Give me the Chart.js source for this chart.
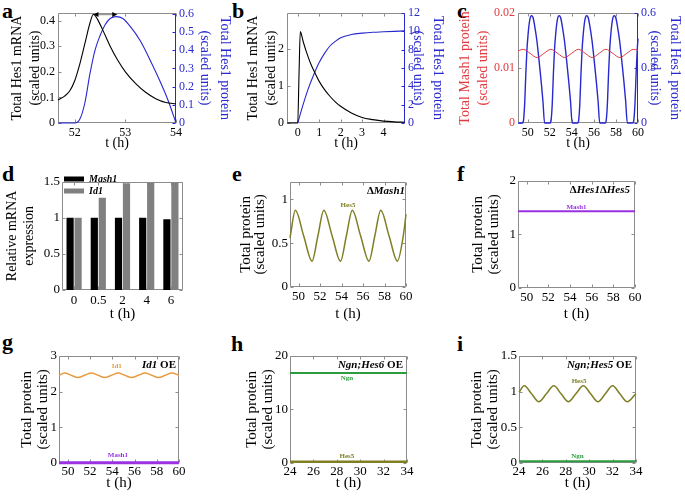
<!DOCTYPE html>
<html>
<head>
<meta charset="utf-8">
<script src="https://cdn.jsdelivr.net/npm/chart.js@4.4.1/dist/chart.umd.min.js"></script>
<style>
  body { margin: 0; width: 685px; height: 497px; background: #fff; position: relative; overflow: hidden; }
  canvas { position: absolute; }
  .tag { position: absolute; font: bold 22px "Liberation Serif", Tinos, "Times New Roman", "DejaVu Serif", serif; line-height: 22px; color: #000; }
</style>
</head>
<body>
<div class="tag" style="left:2px;top:0px">a</div>
<div class="tag" style="left:232px;top:0px">b</div>
<div class="tag" style="left:457px;top:0px">c</div>
<div class="tag" style="left:2px;top:163px">d</div>
<div class="tag" style="left:232px;top:163px">e</div>
<div class="tag" style="left:457px;top:163px">f</div>
<div class="tag" style="left:2px;top:331px">g</div>
<div class="tag" style="left:231px;top:333px">h</div>
<div class="tag" style="left:457px;top:333px">i</div>
<script>
'use strict'

// a: one Hes1 cycle
const aMrnaTime = [51.67, 51.8, 51.9, 52.0, 52.1, 52.2, 52.3, 52.37, 52.45, 52.55, 52.7, 52.85, 53.0, 53.2, 53.4, 53.6, 53.8, 54.0];
const aMrna = [0.09, 0.105, 0.125, 0.165, 0.23, 0.31, 0.39, 0.425, 0.405, 0.365, 0.3, 0.245, 0.2, 0.155, 0.12, 0.095, 0.08, 0.075];
const aProtTime = [51.67, 52.0, 52.1, 52.2, 52.3, 52.4, 52.5, 52.6, 52.7, 52.82, 52.95, 53.1, 53.3, 53.5, 53.7, 53.85, 54.0];
const aProt = [0, 0, 0.02, 0.11, 0.27, 0.4, 0.48, 0.54, 0.575, 0.585, 0.575, 0.53, 0.45, 0.34, 0.22, 0.12, 0];
const aPeaks = [52.37, 52.84];

// b: response after induction
const bMrnaTime = [-0.5, 0, 0.06, 0.12, 0.25, 0.4, 0.6, 0.8, 1.0, 1.25, 1.5, 1.75, 2.0, 2.5, 3.0, 3.5, 4.0, 4.5, 5.0];
const bMrna = [0, 0, 1.3, 2.46, 2.2, 1.92, 1.6, 1.35, 1.12, 0.9, 0.72, 0.57, 0.45, 0.27, 0.15, 0.09, 0.05, 0.03, 0.02];
const bProtTime = [0, 0.25, 0.5, 0.75, 1.0, 1.25, 1.5, 1.75, 2.0, 2.5, 3.0, 3.5, 4.0, 5.0];
const bProt = [0, 2.0, 3.8, 5.3, 6.6, 7.6, 8.4, 8.9, 9.3, 9.65, 9.8, 9.9, 9.95, 10.05];

// c: Mash1 vs Hes1 protein
const cMashTime = [49.12, 49.6, 50.22, 50.85, 51.47, 52.1, 52.72, 53.35, 53.97, 54.6, 55.22, 55.85, 56.47, 57.1, 57.72, 58.35, 58.97, 59.6, 60.0];
const cMash = [0.0131, 0.0134, 0.01265, 0.0119, 0.01265, 0.0134, 0.01265, 0.0119, 0.01265, 0.0134, 0.01265, 0.0119, 0.01265, 0.0134, 0.01265, 0.0119, 0.01265, 0.0134, 0.0132];
const cHesTime = [49.12,
  49.53, 49.63, 49.73, 49.83, 49.93, 50.03, 50.13, 50.23, 50.35, 50.48, 50.63, 50.83, 51.03, 51.23, 51.38, 51.53,
  52.03, 52.13, 52.23, 52.33, 52.43, 52.53, 52.63, 52.73, 52.85, 52.98, 53.13, 53.33, 53.53, 53.73, 53.88, 54.03,
  54.53, 54.63, 54.73, 54.83, 54.93, 55.03, 55.13, 55.23, 55.35, 55.48, 55.63, 55.83, 56.03, 56.23, 56.38, 56.53,
  57.03, 57.13, 57.23, 57.33, 57.43, 57.53, 57.63, 57.73, 57.85, 57.98, 58.13, 58.33, 58.53, 58.73, 58.88, 59.03,
  59.53, 59.63, 59.73, 59.83, 59.93, 60.0];
const cHes = [0,
  0, 0.02, 0.11, 0.27, 0.4, 0.48, 0.54, 0.575, 0.585, 0.575, 0.53, 0.45, 0.34, 0.22, 0.12, 0,
  0, 0.02, 0.11, 0.27, 0.4, 0.48, 0.54, 0.575, 0.585, 0.575, 0.53, 0.45, 0.34, 0.22, 0.12, 0,
  0, 0.02, 0.11, 0.27, 0.4, 0.48, 0.54, 0.575, 0.585, 0.575, 0.53, 0.45, 0.34, 0.22, 0.12, 0,
  0, 0.02, 0.11, 0.27, 0.4, 0.48, 0.54, 0.575, 0.585, 0.575, 0.53, 0.45, 0.34, 0.22, 0.12, 0,
  0, 0.02, 0.11, 0.27, 0.4, 0.46];

// d: relative mRNA expression
const dTimes = ['0', '0.5', '2', '4', '6'];
const dMash1 = [1, 1, 1, 1, 0.98];
const dId1 = [1, 1.28, 1.48, 1.49, 1.49];

// e: Hes5 in Mash1 null
const eTime = [49.2, 49.7, 50.47, 51.25, 51.8, 52.35, 53.12, 53.9, 54.45, 55.0, 55.77, 56.55, 57.1, 57.65, 58.42, 59.2, 59.75, 60.0];
const eHes5 = [0.56, 0.875, 0.585, 0.295, 0.585, 0.875, 0.585, 0.295, 0.585, 0.875, 0.585, 0.295, 0.585, 0.875, 0.585, 0.295, 0.585, 0.83];

// f: Mash1 in Hes1/Hes5 double null
const fTime = [49.2, 60];
const fMash1 = [1.43, 1.43];

// g: Id1 overexpression
const gTime = [49.2, 49.7, 50.3, 50.9, 51.5, 52.12, 52.72, 53.32, 53.92, 54.53, 55.13, 55.74, 56.34, 56.95, 57.55, 58.16, 58.76, 59.37, 60.0];
const gId1 = [2.45, 2.52, 2.455, 2.39, 2.455, 2.52, 2.455, 2.39, 2.455, 2.52, 2.455, 2.39, 2.455, 2.52, 2.455, 2.39, 2.455, 2.52, 2.455];
const gMashTime = [49.2, 60];
const gMash1 = [0.01, 0.01];

// h: Ngn;Hes6 overexpression
const hTime = [24, 34];
const hNgn = [16.8, 16.8];
const hHes5 = [0.25, 0.25];

// i: Ngn;Hes5 overexpression
const iTime = [24, 24.45, 25.07, 25.7, 26.34, 26.98, 27.6, 28.22, 28.86, 29.5, 30.12, 30.75, 31.38, 32.0, 32.62, 33.25, 33.88, 34.0];
const iHes5 = [0.99, 1.08, 0.968, 0.857, 0.968, 1.08, 0.968, 0.857, 0.968, 1.08, 0.968, 0.857, 0.968, 1.08, 0.968, 0.857, 0.95, 0.97];
const iNgnTime = [24, 34];
const iNgn = [0.025, 0.025];

const serif = '"Liberation Serif", Tinos, "Times New Roman", "DejaVu Serif", serif';
Chart.defaults.font.family = serif;
Chart.defaults.color = '#000';

const BLUE = '#2828cf';
const RED = '#e0393e';
const OLIVE = '#7f7f24';
const PURPLE = '#9a32e2';
const ORANGE = '#e99a3e';
const GREEN = '#2c9c3c';

const pts = (xs, ys) => xs.map((x, i) => ({x: x, y: ys[i]}));

function line(data, color, width, axis) {
	return {
		data: data,
		borderColor: color,
		borderWidth: width,
		pointRadius: 0,
		cubicInterpolationMode: 'monotone',
		yAxisID: axis || 'y',
		fill: false,
		clip: 3,
	};
}

function linAxis(o, pos, fit) {
	return {
		type: 'linear',
		position: pos,
		min: o.min,
		max: o.max,
		grid: {display: false, drawTicks: false},
		border: {display: false},
		ticks: {color: o.color || '#000', font: {size: o.size}, padding: o.pad || 3, maxRotation: 0, autoSkip: false, callback: v => String(v)},
		afterBuildTicks: s => { s.ticks = o.ticks.map(v => ({value: v})); },
		title: {display: true, text: o.title, color: o.color || '#000', padding: 0, font: {size: o.titleSize, lineHeight: o.lh + 'px'}},
		afterFit: s => { if (pos === 'bottom') s.height = fit; else s.width = fit; },
	};
}

function framePlugin(p) {
	return {
		id: 'frame',
		beforeDatasetsDraw(chart) {
			const {ctx, chartArea: a, scales} = chart;
			const L = Math.round(a.left) + 0.5, R = Math.round(a.right) - 0.5;
			const T = Math.round(a.top) + 0.5, B = Math.round(a.bottom) - 0.5;
			ctx.save();
			ctx.lineWidth = 1;
			ctx.strokeStyle = '#8c8c8c';
			ctx.beginPath();
			ctx.moveTo(R, T); ctx.lineTo(L, T); ctx.lineTo(L, B); ctx.lineTo(R, B);
			if (!scales.y2) ctx.lineTo(R, T);
			scales.x.ticks.forEach((t, i) => {
				const px = Math.round(scales.x.getPixelForTick(i)) + 0.5;
				ctx.moveTo(px, B); ctx.lineTo(px, B - 3);
				ctx.moveTo(px, T); ctx.lineTo(px, T + 3);
			});
			scales.y.ticks.forEach((t, i) => {
				const py = Math.round(scales.y.getPixelForTick(i)) + 0.5;
				ctx.moveTo(L, py); ctx.lineTo(L + 3, py);
				if (!scales.y2) { ctx.moveTo(R, py); ctx.lineTo(R - 3, py); }
			});
			ctx.stroke();
			if (scales.y2) {
				ctx.strokeStyle = p.y2.color;
				ctx.beginPath();
				ctx.moveTo(R, T); ctx.lineTo(R, B);
				scales.y2.ticks.forEach((t, i) => {
					const py = Math.round(scales.y2.getPixelForTick(i)) + 0.5;
					ctx.moveTo(R, py); ctx.lineTo(R - 3, py);
				});
				ctx.stroke();
			}
			ctx.restore();
		},
	};
}

function marksPlugin(p) {
	return {
		id: 'marks',
		afterDatasetsDraw(chart) {
			const {ctx, chartArea: a, scales} = chart;
			ctx.save();
			(p.notes || []).forEach(n => {
				ctx.font = 'bold 7px ' + serif;
				ctx.fillStyle = n.color;
				ctx.textAlign = 'center';
				ctx.textBaseline = 'middle';
				ctx.fillText(n.text, scales.x.getPixelForValue(n.x), scales.y.getPixelForValue(n.y));
			});
			if (p.cond) {
				const parts = p.cond.map(([t, it]) => {
					const f = (it ? 'italic ' : '') + 'bold 11px ' + serif;
					ctx.font = f;
					return [t, f, ctx.measureText(t).width];
				});
				let x = a.right - p.condPad - parts.reduce((s, q) => s + q[2], 0);
				ctx.fillStyle = '#000';
				ctx.textAlign = 'left';
				ctx.textBaseline = 'alphabetic';
				parts.forEach(([t, f, w]) => {
					ctx.font = f;
					ctx.fillText(t, x, a.top + 12);
					x += w;
				});
			}
			if (p.arrow) {
				const x1 = scales.x.getPixelForValue(p.arrow[0]);
				const x2 = scales.x.getPixelForValue(p.arrow[1]);
				const y = a.top + 1.5;
				ctx.strokeStyle = '#9a9a9a';
				ctx.lineWidth = 1.5;
				ctx.beginPath();
				ctx.moveTo(x1 + 3, y); ctx.lineTo(x2 - 3, y);
				ctx.stroke();
				ctx.fillStyle = '#000';
				ctx.beginPath();
				ctx.moveTo(x1, y); ctx.lineTo(x1 + 5, y - 2.5); ctx.lineTo(x1 + 5, y + 2.5); ctx.closePath();
				ctx.moveTo(x2, y); ctx.lineTo(x2 - 5, y - 2.5); ctx.lineTo(x2 - 5, y + 2.5); ctx.closePath();
				ctx.fill();
			}
			ctx.restore();
		},
	};
}

function makePanel(p) {
	const [cl, ct, cr, cb] = p.canvas;
	const [pl, pt, pr, pb] = p.plot;
	const cv = document.createElement('canvas');
	cv.width = cr - cl;
	cv.height = cb - ct;
	cv.style.left = cl + 'px';
	cv.style.top = ct + 'px';
	document.body.appendChild(cv);

	const scales = {};
	if (p.type === 'bar') {
		scales.x = {
			type: 'category',
			grid: {display: false, drawTicks: false},
			border: {display: false},
			ticks: {font: {size: p.x.size}, padding: 3, maxRotation: 0, autoSkip: false},
			title: {display: true, text: p.x.title, padding: 0, font: {size: p.x.titleSize, lineHeight: p.x.lh + 'px'}},
			afterFit: s => { s.height = cb - pb; },
		};
	} else {
		scales.x = linAxis(p.x, 'bottom', cb - pb);
	}
	scales.y = linAxis(p.y, 'left', pl - cl);
	if (p.y2) scales.y2 = linAxis(p.y2, 'right', cr - pr);

	return new Chart(cv, {
		type: p.type || 'line',
		data: {labels: p.labels, datasets: p.datasets},
		options: {
			responsive: false,
			animation: false,
			events: [],
			layout: {padding: {top: pt - ct, left: 0, bottom: 0, right: p.y2 ? 0 : cr - pr}},
			plugins: {
				legend: p.legend || {display: false},
				tooltip: {enabled: false},
			},
			scales: scales,
		},
		plugins: [framePlugin(p), marksPlugin(p)],
	});
}

const row1 = {size: 12, titleSize: 14, lh: 18};
const row23 = {size: 13, titleSize: 15, lh: 16, pad: 2};

// a
makePanel({
	canvas: [8, 0, 235, 152], plot: [58, 13, 176, 123],
	datasets: [
		line(pts(aMrnaTime, aMrna), '#000', 1.1),
		line(pts(aProtTime, aProt), BLUE, 1.1, 'y2'),
	],
	x: {...row1, min: 51.67, max: 54, ticks: [52, 53, 54], title: 't (h)'},
	y: {...row1, min: 0, max: 0.43, ticks: [0, 0.1, 0.2, 0.3, 0.4], title: ['Total Hes1 mRNA', '(scaled units)']},
	y2: {...row1, lh: 20, min: 0, max: 0.605, ticks: [0, 0.1, 0.2, 0.3, 0.4, 0.5, 0.6], color: BLUE, title: ['Total Hes1 protein', '(scaled units)']},
	arrow: aPeaks,
});

// b
makePanel({
	canvas: [244, 0, 448, 152], plot: [287, 13, 405, 123],
	datasets: [
		line(pts(bMrnaTime, bMrna), '#000', 1.1),
		line(pts(bProtTime, bProt), BLUE, 1.1, 'y2'),
	],
	x: {...row1, min: -0.5, max: 5, ticks: [0, 1, 2, 3, 4], title: 't (h)'},
	y: {...row1, min: 0, max: 2.96, ticks: [0, 1, 2], title: ['Total Hes1 mRNA', '(scaled units)']},
	y2: {...row1, lh: 20, min: 0, max: 12, ticks: [0, 2, 4, 6, 8, 10, 12], color: BLUE, title: ['Total Hes1 protein', '(scaled units)']},
});

// c
makePanel({
	canvas: [456, 0, 685, 152], plot: [518, 13, 638, 123],
	datasets: [
		line(pts(cMashTime, cMash), RED, 1),
		line(pts(cHesTime, cHes), BLUE, 1.4, 'y2'),
	],
	x: {...row1, min: 49.12, max: 60, ticks: [50, 52, 54, 56, 58, 60], title: 't (h)'},
	y: {...row1, min: 0, max: 0.02, ticks: [0, 0.01, 0.02], color: RED, title: ['Total Mash1 protein', '(scaled units)']},
	y2: {...row1, lh: 20, min: 0, max: 0.6, ticks: [0, 0.3, 0.6], color: BLUE, title: ['Total Hes1 protein', '(scaled units)']},
});

// d
makePanel({
	type: 'bar',
	canvas: [4, 172, 225, 322], plot: [62, 178, 183, 290],
	labels: dTimes,
	datasets: [
		{label: 'Mash1', data: dMash1, backgroundColor: '#000', borderWidth: 0, categoryPercentage: 0.66, barPercentage: 0.9},
		{label: 'Id1', data: dId1, backgroundColor: '#808080', borderWidth: 0, categoryPercentage: 0.66, barPercentage: 0.9},
	],
	x: {size: 13, titleSize: 15, lh: 16, title: 't (h)'},
	y: {...row23, titleSize: 14, lh: 17, min: 0, max: 1.5, ticks: [0, 0.5, 1, 1.5], title: ['Relative mRNA', 'expression']},
	legend: {
		display: true,
		position: 'chartArea',
		align: 'start',
		labels: {boxWidth: 20, boxHeight: 5, padding: 2, color: '#000', font: {size: 10, style: 'italic', weight: 'bold'}},
	},
});

// e
makePanel({
	canvas: [239, 172, 450, 322], plot: [290, 178, 406, 287],
	datasets: [line(pts(eTime, eHes5), OLIVE, 1.5)],
	x: {...row23, min: 49.2, max: 60, ticks: [50, 52, 54, 56, 58, 60], title: 't (h)'},
	y: {...row23, lh: 14, min: 0, max: 1.2, ticks: [0, 0.5, 1], title: ['Total protein', '(scaled units)']},
	notes: [{text: 'Hes5', x: 54.6, y: 0.93, color: OLIVE}],
	cond: [['\u0394', false], ['Mash1', true]], condPad: 1,
});

// f
makePanel({
	canvas: [470, 171, 680, 322], plot: [518, 177, 635, 288],
	datasets: [line(pts(fTime, fMash1), PURPLE, 2)],
	x: {...row23, min: 49.2, max: 60, ticks: [50, 52, 54, 56, 58, 60], title: 't (h)'},
	y: {...row23, min: 0, max: 2, ticks: [0, 1, 2], title: ['Total protein', '(scaled units)']},
	notes: [{text: 'Mash1', x: 54.6, y: 1.5, color: PURPLE}],
	cond: [['\u0394', false], ['Hes1', true], ['\u0394', false], ['Hes5', true]], condPad: 5,
});

// g
makePanel({
	canvas: [19, 346, 225, 491], plot: [59, 352, 179, 463],
	datasets: [
		line(pts(gTime, gId1), ORANGE, 1.5),
		line(pts(gMashTime, gMash1), PURPLE, 3),
	],
	x: {...row23, pad: 1, min: 49.2, max: 60, ticks: [50, 52, 54, 56, 58, 60], title: 't (h)'},
	y: {...row23, min: 0, max: 3, ticks: [0, 1, 2, 3], title: ['Total protein', '(scaled units)']},
	notes: [
		{text: 'Id1', x: 54.4, y: 2.72, color: ORANGE},
		{text: 'Mash1', x: 54.5, y: 0.21, color: PURPLE},
	],
	cond: [['Id1', true], [' OE', false]], condPad: 3,
});

// h
makePanel({
	canvas: [244, 346, 450, 491], plot: [290, 352, 407, 463],
	datasets: [
		line(pts(hTime, hNgn), GREEN, 2),
		line(pts(hTime, hHes5), OLIVE, 2.5),
	],
	x: {...row23, pad: 1, min: 24, max: 34, ticks: [24, 26, 28, 30, 32, 34], title: 't (h)'},
	y: {...row23, min: 0, max: 20, ticks: [0, 10, 20], title: ['Total protein', '(scaled units)']},
	notes: [
		{text: 'Ngn', x: 28.86, y: 15.8, color: GREEN},
		{text: 'Hes5', x: 28.86, y: 1.2, color: OLIVE},
	],
	cond: [['Ngn;Hes6', true], [' OE', false]], condPad: 4,
});

// i
makePanel({
	canvas: [469, 346, 680, 491], plot: [519, 352, 636, 463],
	datasets: [
		line(pts(iTime, iHes5), OLIVE, 1.5),
		line(pts(iNgnTime, iNgn), GREEN, 2),
	],
	x: {...row23, pad: 1, min: 24, max: 34, ticks: [24, 26, 28, 30, 32, 34], title: 't (h)'},
	y: {...row23, min: 0, max: 1.5, ticks: [0, 0.5, 1, 1.5], title: ['Total protein', '(scaled units)']},
	notes: [
		{text: 'Hes5', x: 29.13, y: 1.15, color: OLIVE},
		{text: 'Ngn', x: 29.0, y: 0.09, color: GREEN},
	],
	cond: [['Ngn;Hes5', true], [' OE', false]], condPad: 4,
});
</script>
</body>
</html>
